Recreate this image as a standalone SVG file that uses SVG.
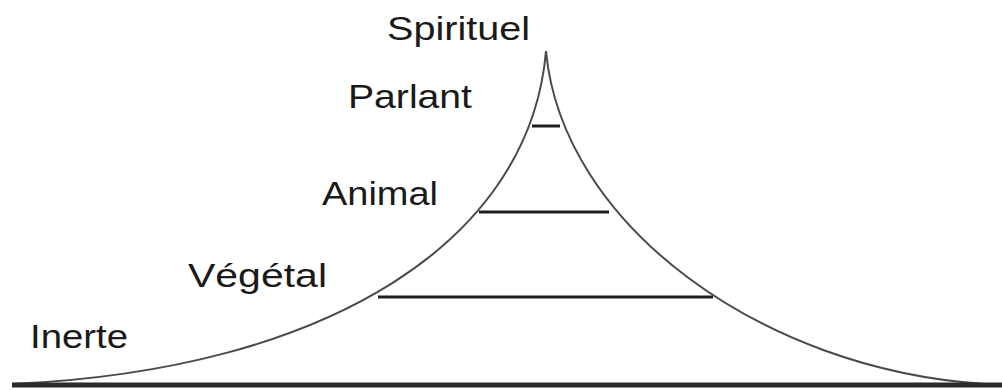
<svg xmlns="http://www.w3.org/2000/svg" width="1002" height="390" viewBox="0 0 1002 390">
<style>
.lbl{font-family:"Liberation Sans","DejaVu Sans",sans-serif;font-size:34px;fill:#1a1a1a}
.curve{fill:none;stroke:#4a4a4a;stroke-width:2}
.tier{stroke:#1e1e1e;stroke-width:3}
</style>
<rect width="1002" height="390" fill="#ffffff"/>
<g id="connectors">
<path class="curve" d="M 12 384 C 330 370, 530 240, 546 51"/>
<path class="curve" d="M 546 51 C 562 225, 762 370, 985 384"/>
<line class="tier" x1="532" y1="126" x2="560" y2="126"/>
<line class="tier" x1="479" y1="212" x2="609" y2="212"/>
<line class="tier" x1="378" y1="297" x2="713" y2="297"/>
<line x1="12" y1="385" x2="1002" y2="385" stroke="#2a2a2a" stroke-width="5"/>
</g>
<g id="spirituel"><text class="lbl" x="387" y="40" textLength="143" lengthAdjust="spacingAndGlyphs">Spirituel</text></g>
<g id="parlant"><text class="lbl" x="348" y="108" textLength="124" lengthAdjust="spacingAndGlyphs">Parlant</text></g>
<g id="animal"><text class="lbl" x="322" y="205" textLength="116" lengthAdjust="spacingAndGlyphs">Animal</text></g>
<g id="vegetal"><text class="lbl" x="188" y="287" textLength="139" lengthAdjust="spacingAndGlyphs">Végétal</text></g>
<g id="inerte"><text class="lbl" x="30" y="348" textLength="98" lengthAdjust="spacingAndGlyphs">Inerte</text></g>
</svg>
